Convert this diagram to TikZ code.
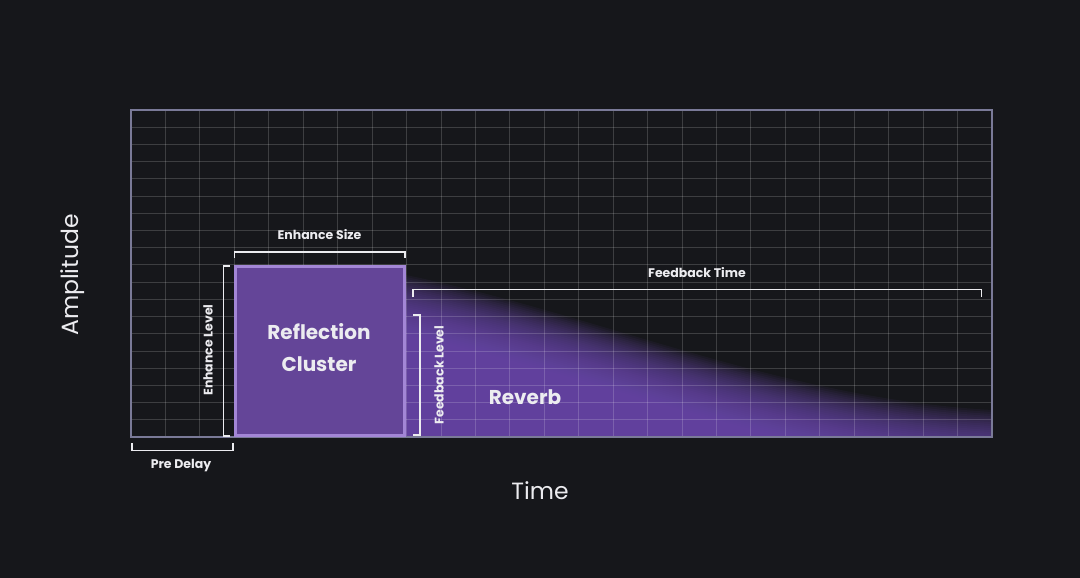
\documentclass[tikz,border=0pt]{standalone}
\usepackage{fontspec}
\setmainfont{Poppins}
\usetikzlibrary{positioning,calc}
\definecolor{night}{RGB}{22,23,27}
\definecolor{lav}{RGB}{122,122,152}
\definecolor{chalk}{RGB}{236,236,240}
\definecolor{plum}{RGB}{100,69,152}
\definecolor{lilac}{RGB}{163,134,214}
\definecolor{tail}{RGB}{114,78,182}
\tikzset{
  gridln/.style={draw=white,opacity=0.17,line width=0.9pt},
  frame/.style={draw=lav,line width=1.6pt},
  brace/.style={draw=chalk,line width=1.8pt},
  lab/.style={font=\bfseries\fontsize{12.5}{14}\selectfont,text=chalk},
  big/.style={font=\bfseries\fontsize{20}{32}\selectfont,text=chalk,align=center},
  axis/.style={font=\fontsize{23.5}{28}\selectfont,text=chalk},
  cluster/.style={draw=lilac,fill=plum,line width=3pt,outer sep=0pt,
    minimum width=169pt,minimum height=169pt,inner sep=0pt}
}
\begin{document}
\begin{tikzpicture}[x=1pt,y=-1pt]
  \fill[night] (0,0) rectangle (1080,578);
  \useasboundingbox (0,0) rectangle (1080,578);
  \coordinate (o) at (131,437);
  \coordinate (ne) at (992,110);
  % reverb tail with a soft upper edge
  \begin{scope}
    \clip (406,110) rectangle (992,437);
    \foreach \d in {-30,-28,...,30}
      \fill[tail,opacity=0.065] (406,437) -- (406,{305+\d})
        .. controls (600,{345+\d}) and (780,{428+\d}) .. (992,{440+\d})
        -- (992,437) -- cycle;
  \end{scope}
  % grid
  \foreach \i in {1,...,24}
    \draw[gridln] ({131+\i*34.44},110) -- ({131+\i*34.44},437);
  \foreach \j in {1,...,18}
    \draw[gridln] (131,{437-\j*17.21}) -- (992,{437-\j*17.21});
  \draw[frame] (o) rectangle (ne);
  % early reflections
  \node[cluster,anchor=south west] (box) at (235.5,435.5) {};
  \node[big] (boxlab) at (319,348) {Reflection\\Cluster};
  \node[big] (reverb) at (525,397) {Reverb};
  % brackets
  \draw[brace] (234.5,258) -- (234.5,252) -- (405,252) -- (405,258);
  \node[lab] (size) at (319.5,235) {Enhance Size};
  \draw[brace] (230,266) -- (223.5,266) -- (223.5,436) -- (230,436);
  \node[lab,rotate=90] (elevel) at (208,350) {Enhance Level};
  \draw[brace] (132,443) -- (132,450.5) -- (233,450.5) -- (233,443);
  \node[lab] (pre) at (181,466) {Pre Delay};
  \draw[brace] (413,315) -- (420,315) -- (420,435) -- (413,435);
  \node[lab,rotate=90] (flevel) at (439,375) {Feedback Level};
  \draw[brace] (413,297) -- (413,289.5) -- (981.5,289.5) -- (981.5,297);
  \node[lab] (ftime) at (697,273) {Feedback Time};
  % axes
  \node[axis,rotate=90] (amp) at (73,275) {Amplitude};
  \node[axis] (time) at (540,491) {Time};
\end{tikzpicture}
\end{document}
